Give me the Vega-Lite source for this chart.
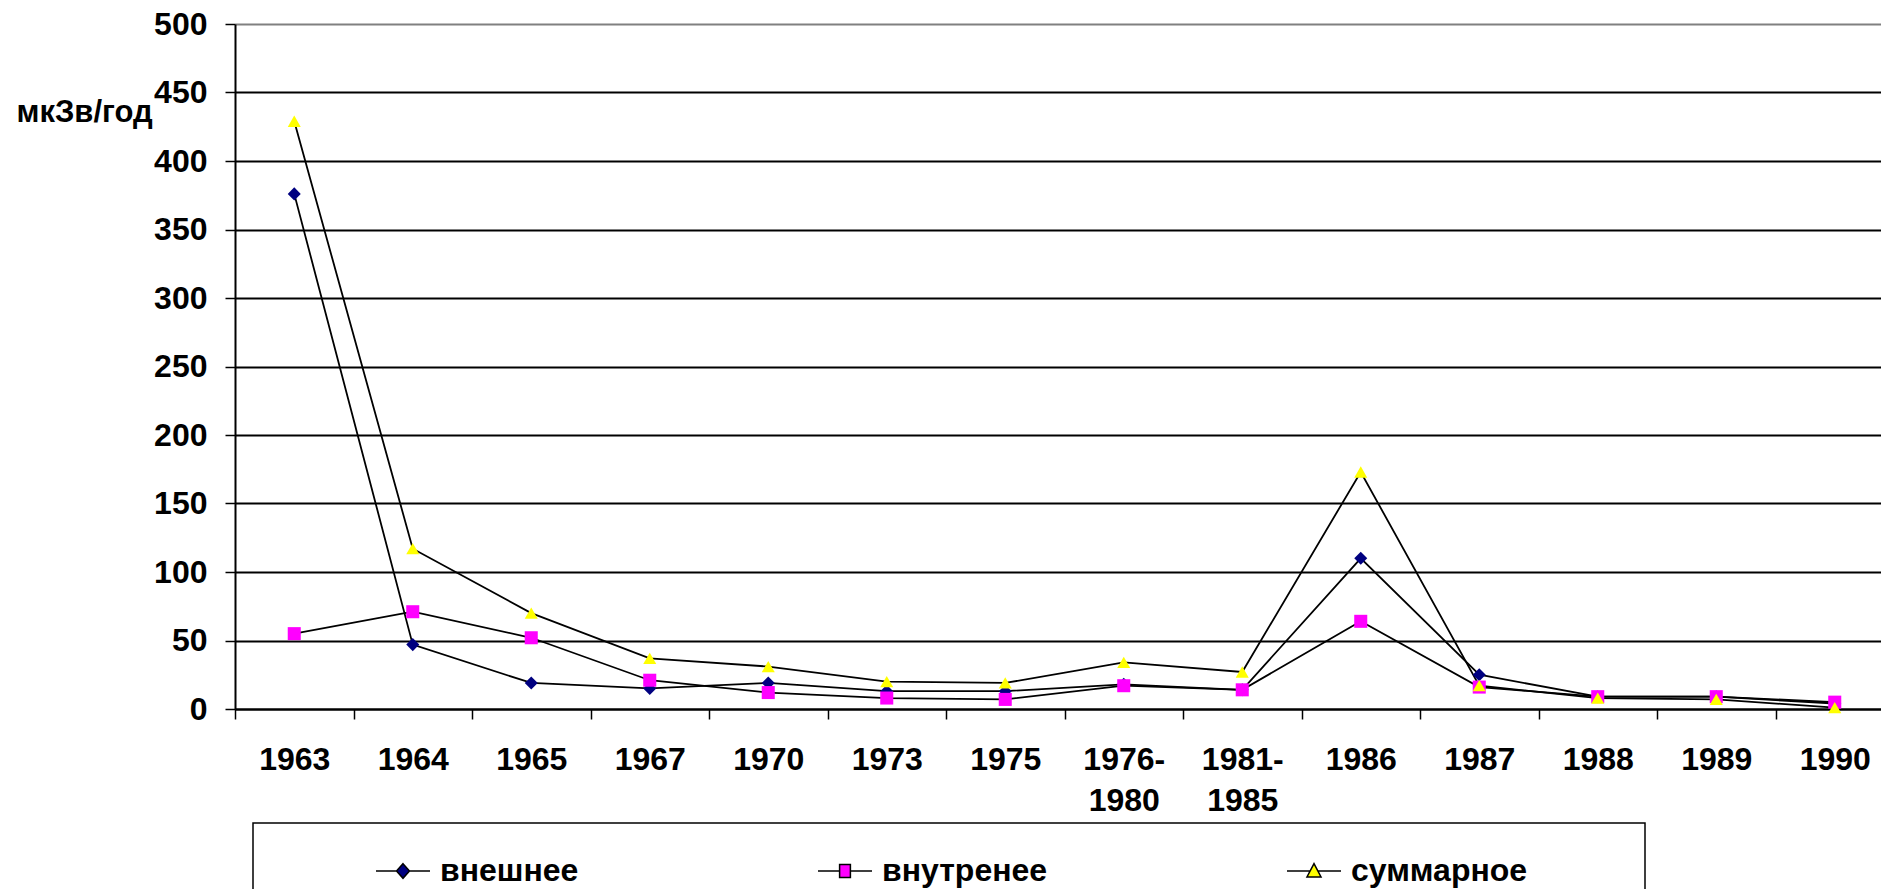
{
  "$schema": "https://vega.github.io/schema/vega-lite/v6.json",
  "autosize": {"type": "none"},
  "padding": {"left": 235, "top": 24, "right": -13, "bottom": 180},
  "width": 1659,
  "height": 685,
  "background": "white",
  "data": {
    "values": [
      {"year": "1963", "series": "внешнее", "value": 376},
      {"year": "1964", "series": "внешнее", "value": 47},
      {"year": "1965", "series": "внешнее", "value": 19},
      {"year": "1967", "series": "внешнее", "value": 15},
      {"year": "1970", "series": "внешнее", "value": 19},
      {"year": "1973", "series": "внешнее", "value": 13},
      {"year": "1975", "series": "внешнее", "value": 13},
      {"year": "1976-1980", "series": "внешнее", "value": 18},
      {"year": "1981-1985", "series": "внешнее", "value": 14},
      {"year": "1986", "series": "внешнее", "value": 110},
      {"year": "1987", "series": "внешнее", "value": 25},
      {"year": "1988", "series": "внешнее", "value": 9},
      {"year": "1989", "series": "внешнее", "value": 9},
      {"year": "1990", "series": "внешнее", "value": 4},
      {"year": "1963", "series": "внутренее", "value": 55},
      {"year": "1964", "series": "внутренее", "value": 71},
      {"year": "1965", "series": "внутренее", "value": 52},
      {"year": "1967", "series": "внутренее", "value": 21},
      {"year": "1970", "series": "внутренее", "value": 12},
      {"year": "1973", "series": "внутренее", "value": 8},
      {"year": "1975", "series": "внутренее", "value": 7},
      {"year": "1976-1980", "series": "внутренее", "value": 17},
      {"year": "1981-1985", "series": "внутренее", "value": 14},
      {"year": "1986", "series": "внутренее", "value": 64},
      {"year": "1987", "series": "внутренее", "value": 16},
      {"year": "1988", "series": "внутренее", "value": 9},
      {"year": "1989", "series": "внутренее", "value": 9},
      {"year": "1990", "series": "внутренее", "value": 5},
      {"year": "1963", "series": "суммарное", "value": 429},
      {"year": "1964", "series": "суммарное", "value": 117},
      {"year": "1965", "series": "суммарное", "value": 70},
      {"year": "1967", "series": "суммарное", "value": 37},
      {"year": "1970", "series": "суммарное", "value": 31},
      {"year": "1973", "series": "суммарное", "value": 20},
      {"year": "1975", "series": "суммарное", "value": 19},
      {"year": "1976-1980", "series": "суммарное", "value": 34},
      {"year": "1981-1985", "series": "суммарное", "value": 27},
      {"year": "1986", "series": "суммарное", "value": 173},
      {"year": "1987", "series": "суммарное", "value": 17},
      {"year": "1988", "series": "суммарное", "value": 8},
      {"year": "1989", "series": "суммарное", "value": 7},
      {"year": "1990", "series": "суммарное", "value": 1}
    ]
  },
  "encoding": {
    "x": {
      "field": "year",
      "type": "ordinal",
      "sort": null,
      "scale": {"type": "band", "paddingInner": 0, "paddingOuter": 0},
      "axis": {
        "title": null,
        "tickBand": "extent",
        "labelAngle": 0,
        "labelPadding": 25,
        "labelLineHeight": 41,
        "labelBaseline": "top",
        "labelExpr": "indexof(datum.label, '-') > 0 ? [slice(datum.label, 0, 5), slice(datum.label, 5)] : datum.label",
        "grid": false
      }
    },
    "y": {
      "field": "value",
      "type": "quantitative",
      "scale": {"domain": [0, 500], "nice": false},
      "axis": {
        "title": "мкЗв/год",
        "values": [0, 50, 100, 150, 200, 250, 300, 350, 400, 450, 500],
        "grid": true,
        "gridColor": {"condition": {"test": "datum.value === 500", "value": "#808080"}, "value": "black"},
        "gridWidth": 2,
        "labelPadding": 18,
        "titleAngle": 0,
        "titleAlign": "left",
        "titleBaseline": "alphabetic",
        "titleX": -219,
        "titleY": 97,
        "titleFontSize": 31
      }
    }
  },
  "layer": [
    {
      "mark": {"type": "line", "color": "black", "strokeWidth": 1.8},
      "encoding": {"detail": {"field": "series"}}
    },
    {
      "mark": {"type": "point", "filled": true, "opacity": 1, "size": 170},
      "encoding": {
        "shape": {
          "field": "series",
          "type": "nominal",
          "scale": {"domain": ["внешнее", "внутренее", "суммарное"], "range": ["diamond", "square", "triangle-up"]},
          "legend": null
        },
        "fill": {
          "field": "series",
          "type": "nominal",
          "scale": {"domain": ["внешнее", "внутренее", "суммарное"], "range": ["#000080", "#FF00FF", "#FFFF00"]},
          "legend": null
        }
      }
    },
    {
      "mark": {"type": "point", "filled": true, "size": 0},
      "encoding": {
        "shape": {
          "field": "series",
          "type": "nominal",
          "scale": {
            "domain": ["внешнее", "внутренее", "суммарное"],
            "range": [
              "M-1,0H-0.24M0.24,0H1M0,-0.27L0.24,0L0,0.27L-0.24,0Z",
              "M-1,0H-0.2M0.2,0H1M-0.2,-0.24H0.2V0.24H-0.2Z",
              "M-1,0H-0.16M0.16,0H1M0,-0.27L0.26,0.22L-0.26,0.22Z"
            ]
          },
          "legend": {
            "title": " ",
            "labelExpr": "datum.label == 'суммарное' ? datum.label + '\u00a0\u00a0\u00a0\u00a0\u00a0\u00a0\u00a0\u00a0\u00a0\u00a0\u00a0\u200b' : datum.label",
            "encode": {"symbols": {"update": {"stroke": {"value": "black"}, "strokeWidth": {"value": 1.5}}}}
          }
        },
        "fill": {
          "field": "series",
          "type": "nominal",
          "scale": {"domain": ["внешнее", "внутренее", "суммарное"], "range": ["#000080", "#FF00FF", "#FFFF00"]},
          "legend": {
            "title": " ",
            "labelExpr": "datum.label == 'суммарное' ? datum.label + '\u00a0\u00a0\u00a0\u00a0\u00a0\u00a0\u00a0\u00a0\u00a0\u00a0\u00a0\u200b' : datum.label",
            "encode": {"symbols": {"update": {"stroke": {"value": "black"}, "strokeWidth": {"value": 1.5}}}}
          }
        }
      }
    }
  ],
  "resolve": {"scale": {"shape": "independent", "fill": "independent"}},
  "config": {
    "font": "Liberation Sans",
    "view": {"stroke": null},
    "axis": {
      "domainColor": "black",
      "domainWidth": 2,
      "tickColor": "black",
      "tickWidth": 1.5,
      "tickSize": 10,
      "labelFont": "Liberation Sans",
      "labelFontWeight": "bold",
      "labelFontSize": 32,
      "labelColor": "black",
      "titleFont": "Liberation Sans",
      "titleFontWeight": "bold",
      "titleColor": "black"
    },
    "legend": {
      "orient": "none",
      "legendX": 18,
      "legendY": 799,
      "direction": "horizontal",
      "columns": 3,
      "padding": 20,
      "strokeColor": "black",
      "strokeWidth": 1.5,
      "fillColor": "white",
      "labelFont": "Liberation Sans",
      "labelFontWeight": "bold",
      "labelFontSize": 32,
      "labelColor": "black",
      "labelOffset": 9,
      "labelLimit": 0,
      "columnPadding": 236,
      "symbolSize": 2916,
      "symbolStrokeColor": "black",
      "symbolStrokeWidth": 1.5,
      "symbolOpacity": 1,
      "titleOrient": "left",
      "titlePadding": 102,
      "titleFontSize": 1
    }
  }
}
